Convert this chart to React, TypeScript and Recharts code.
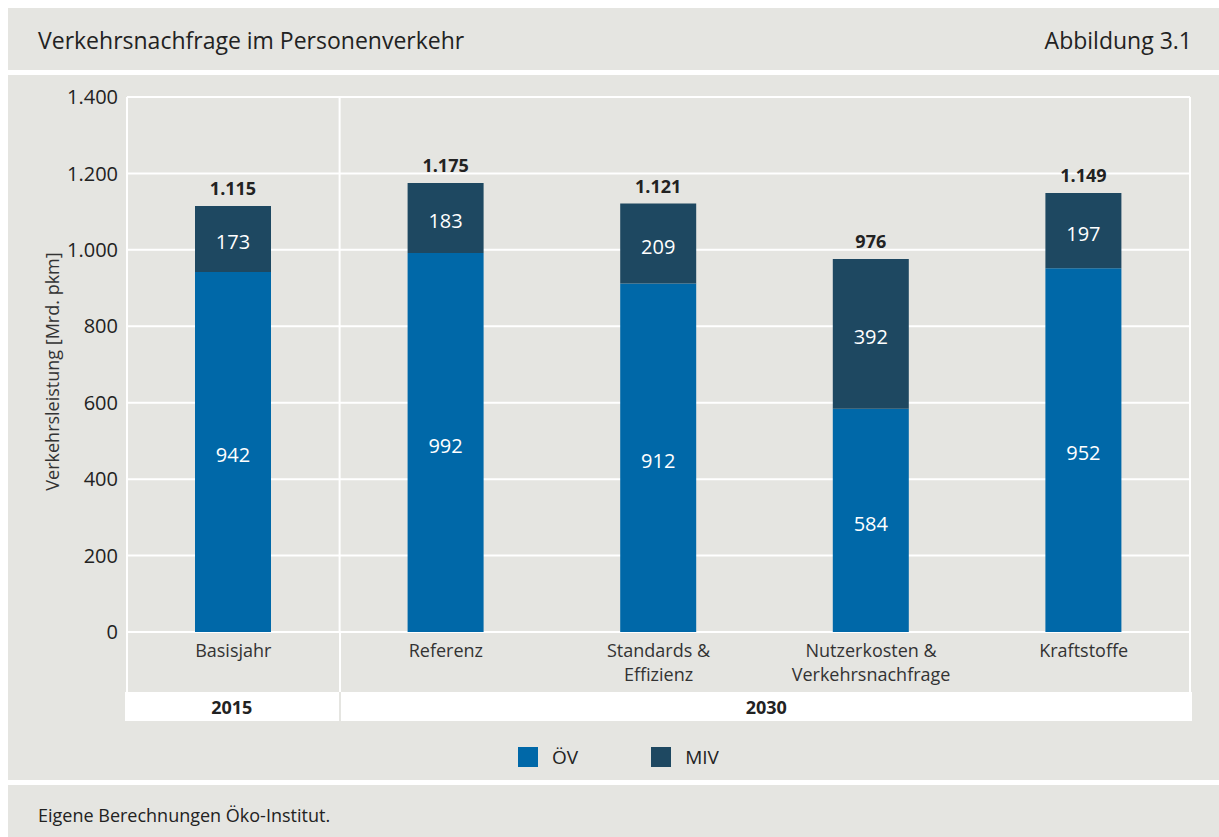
import { Bar, BarChart, CartesianGrid, LabelList, Legend, XAxis, YAxis } from "recharts";

const CATEGORIES = [
  "Basisjahr",
  "Referenz",
  "Standards &\nEffizienz",
  "Nutzerkosten &\nVerkehrsnachfrage",
  "Kraftstoffe",
];
const OEV = [942, 992, 912, 584, 952];
const MIV = [173, 183, 209, 392, 197];
const Y_TICKS = [0, 200, 400, 600, 800, 1000, 1200, 1400];
const GROUPS = [
  { label: "2015", span: 1 },
  { label: "2030", span: 4 },
];
const SERIES_ORDER = ["oev", "miv"];

const BG = "#e5e5e1";
const BLUE = "#0068a8";
const DARK = "#1e4861";
const TEXT = "#222";
const FONT = "'Open Sans', sans-serif";

// layout of the main panel (px, relative to the panel)
const PANEL_W = 1211;
const MAIN_H = 705;
const Y_AXIS_W = 80;
const MARGIN = { top: 22, right: 29, bottom: 8, left: 39 };
const LEGEND_H = 30;
const X_AXIS_H = 110;
const PLOT_LEFT = MARGIN.left + Y_AXIS_W;
const PLOT_RIGHT = PANEL_W - MARGIN.right;
const PLOT_BOTTOM = MAIN_H - MARGIN.bottom - LEGEND_H - X_AXIS_H;
const BAND = (PLOT_RIGHT - PLOT_LEFT) / CATEGORIES.length;

// German thousands separator: 1115 -> "1.115"
const fmtDE = (v: number) => String(v).replace(/\B(?=(\d{3})+(?!\d))/g, ".");

const data = CATEGORIES.map((category, i) => ({
  category,
  oev: OEV[i],
  miv: MIV[i],
  total: OEV[i] + MIV[i],
}));

function CategoryTick({ x, y, payload }: any) {
  const lines = String(payload.value).split("\n");
  return (
    <text x={x} y={y} textAnchor="middle" fill="#333" fontSize={18} fontFamily={FONT}>
      {lines.map((line, i) => (
        <tspan key={i} x={x} dy={i === 0 ? 25 : 24}>
          {line}
        </tspan>
      ))}
    </text>
  );
}

function LegendContent({ payload }: any) {
  const items = [...(payload ?? [])].sort(
    (a: any, b: any) => SERIES_ORDER.indexOf(a.dataKey) - SERIES_ORDER.indexOf(b.dataKey)
  );
  return (
    <div
      style={{
        height: LEGEND_H,
        display: "flex",
        justifyContent: "center",
        alignItems: "center",
        fontFamily: FONT,
        fontSize: 19,
        color: TEXT,
      }}
    >
      {items.map((entry: any, i: number) => (
        <div
          key={entry.value}
          style={{ display: "flex", alignItems: "center", marginLeft: i === 0 ? 0 : 73 }}
        >
          <span style={{ width: 20, height: 20, background: entry.color, marginRight: 14 }} />
          <span>{entry.value}</span>
        </div>
      ))}
    </div>
  );
}

// Lines below the zero line and the white 2015 / 2030 row under the categories.
function GroupRow() {
  const edges = [0];
  GROUPS.forEach((g) => edges.push(edges[edges.length - 1] + g.span));
  const rowTop = PLOT_BOTTOM + 60;
  return (
    <>
      {edges.map((e) => (
        <div
          key={"l" + e}
          style={{
            position: "absolute",
            left: PLOT_LEFT + e * BAND - 1,
            top: PLOT_BOTTOM,
            width: 2,
            height: 60,
            background: "#fff",
          }}
        />
      ))}
      {GROUPS.map((g, i) => {
        const x0 = PLOT_LEFT + edges[i] * BAND;
        const x1 = PLOT_LEFT + edges[i + 1] * BAND;
        return (
          <div
            key={g.label}
            style={{
              position: "absolute",
              left: i === 0 ? x0 - 2 : x0 + 1,
              width: x1 - x0 + 1,
              top: rowTop,
              height: 29,
              background: "#fff",
              display: "flex",
              alignItems: "center",
              justifyContent: "center",
              fontFamily: FONT,
              fontWeight: 700,
              fontSize: 18,
              color: TEXT,
            }}
          >
            {g.label}
          </div>
        );
      })}
    </>
  );
}

export default function App() {
  return (
    <div
      style={{
        position: "fixed",
        left: 8,
        top: 8,
        width: PANEL_W,
        height: 829,
        background: "#fff",
        fontFamily: FONT,
        color: TEXT,
      }}
    >
      <div
        style={{
          height: 62,
          background: BG,
          display: "flex",
          alignItems: "center",
          justifyContent: "space-between",
          padding: "2px 27px 0 30px",
          boxSizing: "border-box",
          fontSize: 23,
        }}
      >
        <span>Verkehrsnachfrage im Personenverkehr</span>
        <span>Abbildung 3.1</span>
      </div>
      <div style={{ position: "absolute", top: 67, left: 0, width: PANEL_W, height: MAIN_H, background: BG }}>
        <GroupRow />
        <div style={{ position: "absolute", left: 0, top: 0 }}>
          <BarChart width={PANEL_W} height={MAIN_H} data={data} margin={MARGIN}>
            <CartesianGrid
              stroke="#fff"
              strokeWidth={2}
              verticalCoordinatesGenerator={({ offset }: any) => [
                offset.left,
                offset.left + offset.width / CATEGORIES.length,
                offset.left + offset.width,
              ]}
            />
            <XAxis
              dataKey="category"
              height={X_AXIS_H}
              axisLine={false}
              tickLine={false}
              tickSize={0}
              tickMargin={0}
              interval={0}
              tick={<CategoryTick />}
            />
            <YAxis
              width={Y_AXIS_W}
              domain={[0, 1400]}
              ticks={Y_TICKS}
              axisLine={false}
              tickLine={false}
              tickSize={0}
              tickMargin={9}
              tickFormatter={fmtDE}
              tick={{ fontSize: 20, fill: TEXT, fontFamily: FONT }}
              label={{
                content: ({ viewBox }: any) => (
                  <text
                    x={viewBox.x + 5}
                    y={viewBox.y + viewBox.height / 2 + 7}
                    transform={`rotate(-90 ${viewBox.x + 5} ${viewBox.y + viewBox.height / 2 + 7})`}
                    textAnchor="middle"
                    dominantBaseline="central"
                    fontSize={18}
                    fill="#333"
                    fontFamily={FONT}
                  >
                    Verkehrsleistung [Mrd. pkm]
                  </text>
                ),
              }}
            />
            <Legend verticalAlign="bottom" content={<LegendContent />} />
            <Bar dataKey="oev" name="ÖV" stackId="a" fill={BLUE} barSize={76} isAnimationActive={false}>
              <LabelList dataKey="oev" position="center" offset={0} dy={3} fill="#fff" fontSize={20} fontFamily={FONT} />
            </Bar>
            <Bar dataKey="miv" name="MIV" stackId="a" fill={DARK} barSize={76} isAnimationActive={false}>
              <LabelList dataKey="miv" position="center" offset={0} dy={3} fill="#fff" fontSize={20} fontFamily={FONT} />
              <LabelList
                dataKey="total"
                position="top"
                offset={11}
                formatter={(v: any) => fmtDE(Number(v))}
                fill={TEXT}
                fontSize={18}
                fontWeight={700}
                fontFamily={FONT}
              />
            </Bar>
          </BarChart>
        </div>
      </div>
      <div
        style={{
          position: "absolute",
          top: 777,
          left: 0,
          width: PANEL_W,
          height: 52,
          background: BG,
          display: "flex",
          alignItems: "center",
          padding: "8px 0 0 30px",
          boxSizing: "border-box",
          fontSize: 18,
        }}
      >
        Eigene Berechnungen Öko-Institut.
      </div>
    </div>
  );
}
